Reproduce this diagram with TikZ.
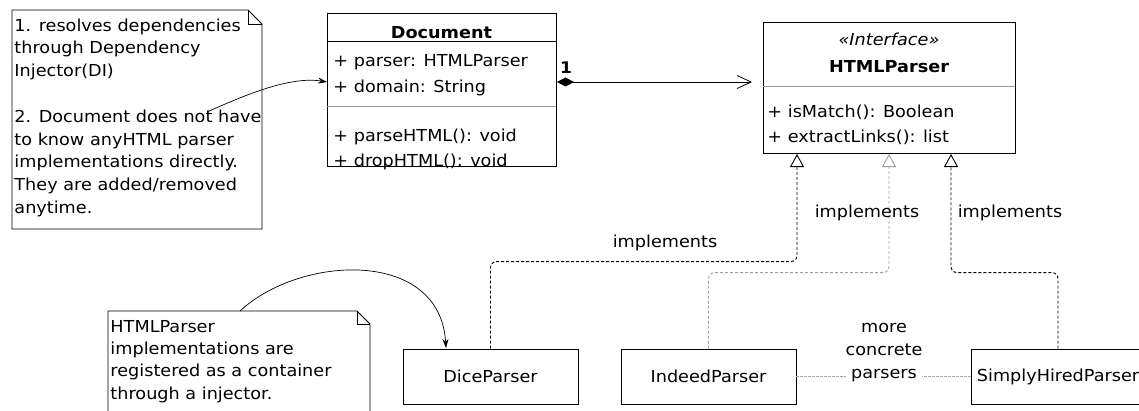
\documentclass[tikz,border=0pt]{standalone}
\usepackage{fontspec}
\setmainfont{DejaVu Sans}[FakeStretch=1.07]
\usetikzlibrary{arrows.meta,calc}
\begin{document}
\begin{tikzpicture}[x=1pt,y=-1pt,line width=0.9pt,
  txt/.style={font=\fontsize{16.5}{22.8}\selectfont, inner sep=0pt, align=left, anchor=base west},
  lbl/.style={font=\fontsize{16.5}{22.8}\selectfont, inner sep=0pt},
  umlbox/.style={draw, inner sep=0pt, anchor=north west},
  sepline/.style={draw=gray!80, line width=0.8pt},
  impl/.style={dash pattern=on 3pt off 2pt, rounded corners=6pt, line width=0.9pt,
     -{Triangle[open,length=13pt,width=14pt,fill=white]}},
  note/.style={draw, line width=0.9pt},
  ptr/.style={line width=0.7pt, -{Stealth[length=9pt,width=6pt]}}
]
\useasboundingbox (0,0) rectangle (1139,410);

% ---------- Note 1 ----------
\draw[note] (12,229) -- (12,10) -- (248,10) -- (262,24) -- (262,229) -- cycle;
\draw[note] (248,10) -- (248,24) -- (262,24);
\node[txt] (n1) at (14,213.4) {1. resolves dependencies\\through Dependency\\Injector(DI)\\[22.8pt]2. Document does not have\\to know anyHTML parser\\implementations directly.\\They are added/removed\\anytime.};
\coordinate (n1s) at (207,112);

% ---------- Document ----------
\node[umlbox, minimum width=229pt, minimum height=153pt] (doc) at (327,13) {};
\node[lbl, font=\fontsize{16.5}{20}\selectfont\bfseries, anchor=base] (doct) at (441.5,38.5) {Document};
\node[txt] (da1) at (333,66.5) {+ parser: HTMLParser};
\node[txt] (da2) at (333,92.5) {+ domain: String};
\node[txt] (dm1) at (333,141.5) {+ parseHTML(): void};
\node[txt] (dm2) at (333,166.5) {+ dropHTML(): void};
\draw (327,41.5) -- (556,41.5);
\draw[sepline] (327,106) -- (556,106);
\draw (doc.south west) -- (doc.south east);

% ---------- HTMLParser ----------
\node[umlbox, minimum width=252pt, minimum height=131pt] (hp) at (763,22) {};
\node[lbl, font=\fontsize{16.5}{20}\selectfont\itshape, anchor=base] (hps) at (889,45) {«Interface»};
\node[lbl, font=\fontsize{16.5}{20}\selectfont\bfseries, anchor=base] (hpt) at (889,72) {HTMLParser};
\draw[sepline] (763,86) -- (1015,86);
\node[txt] (hm1) at (767,117) {+ isMatch(): Boolean};
\node[txt] (hm2) at (767,142) {+ extractLinks(): list};
\coordinate (hp1) at (797,154);
\coordinate (hp2) at (889,154);
\coordinate (hp3) at (951,154);

% composition
\coordinate (cs) at (557,82);
\coordinate (ce) at (752,82);
\draw[line width=0.8pt, {Diamond[length=17pt,width=9pt]}-{Straight Barb[length=14pt,width=13pt,line width=0.8pt]}] (cs) -- (ce);
\node[lbl, font=\fontsize{16}{18}\selectfont\bfseries, anchor=base] (one) at (566,73) {1};

% note1 -> Document
\draw[ptr] (n1s) .. controls (245,95) and (290,76) .. (doc.west |- ce);

% ---------- concrete parsers ----------
\node[draw, minimum width=175pt, minimum height=55pt, inner sep=0pt, font=\fontsize{16.5}{20}\selectfont] (dice) at (490.5,376.5) {DiceParser};
\node[draw, minimum width=175pt, minimum height=55pt, inner sep=0pt, font=\fontsize{16.5}{20}\selectfont] (indeed) at (708.5,376.5) {IndeedParser};
\node[draw, minimum width=174pt, minimum height=55pt, inner sep=0pt, font=\fontsize{16.5}{20}\selectfont] (shp) at (1058,376.5) {SimplyHiredParser};

\draw[impl] (dice.north) -- ++(0,-87) -| (hp1);
\draw[impl, draw=gray!75] (indeed.north) -- ++(0,-76) -| (hp2);
\draw[impl] (shp.north) -- ++(0,-76) -| (hp3);

\node[lbl] (l1) at (665,243) {implements};
\node[lbl] (l2) at (867,213) {implements};
\node[lbl] (l3) at (1010,213) {implements};

% more concrete parsers
\draw[gray!70, line width=0.7pt, dash pattern=on 2.5pt off 1.5pt] (indeed.east) -- (shp.west);
\node[lbl, align=center, fill=white, font=\fontsize{16.5}{23}\selectfont] (more) at (884,353) {more\\concrete\\parsers};

% ---------- Note 2 ----------
\draw[note] (108,411) -- (108,311) -- (357,311) -- (370,324) -- (370,411);
\draw[note] (357,311) -- (357,324) -- (370,324);
\node[txt, font=\fontsize{16.5}{22.4}\selectfont] (n2) at (110,399.2) {HTMLParser\\implementations are\\registered as a container\\through a injector.};
\coordinate (n2s) at (240,311);
\coordinate (dt) at (446,348);
\draw[ptr] (n2s) .. controls (300,255) and (440,248) .. (dt);
\end{tikzpicture}
\end{document}
